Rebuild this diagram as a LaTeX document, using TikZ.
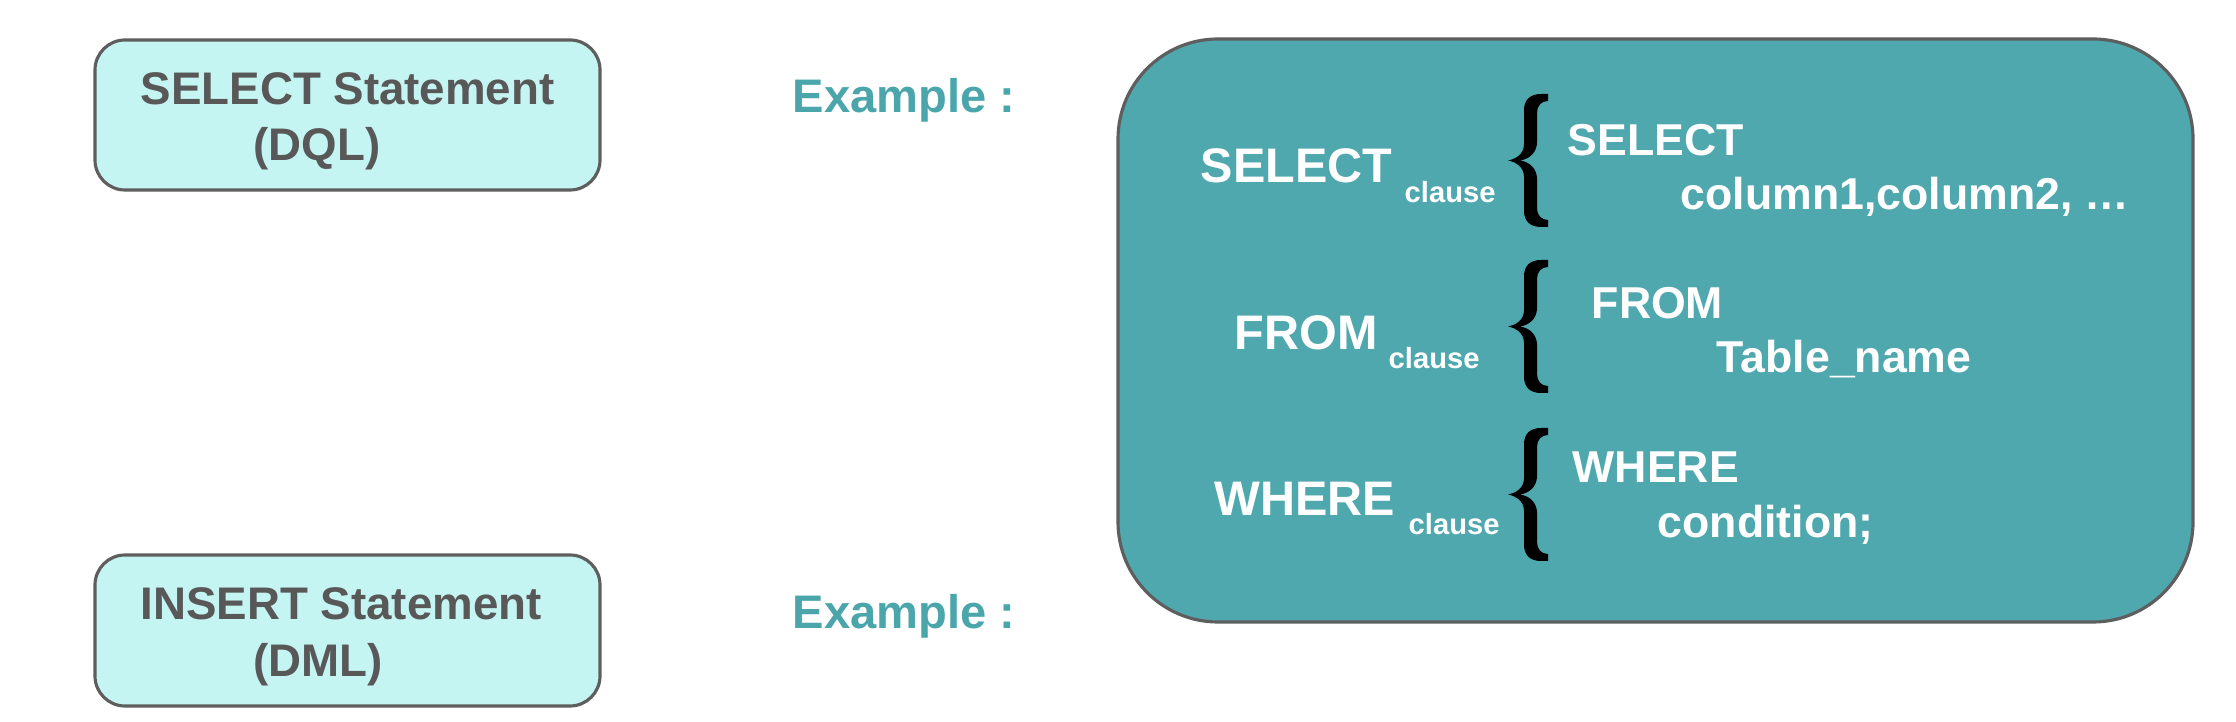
\documentclass[tikz,border=0pt]{standalone}
\usepackage{fontspec}
\setmainfont{Liberation Sans}

\definecolor{boxgray}{HTML}{5E5E5E}
\definecolor{txtgray}{HTML}{585858}
\definecolor{paleaqua}{HTML}{C5F5F2}
\definecolor{sqlteal}{HTML}{4FA8AE}
\definecolor{exteal}{HTML}{4AA6AB}

\tikzset{
  stmtbox/.style={draw=boxgray, fill=paleaqua, line width=0.9pt, rounded corners=3mm},
  stmttext/.style={anchor=base west, inner sep=0pt, text=txtgray, font=\fontsize{13}{15}\selectfont\bfseries},
  extext/.style={anchor=base west, inner sep=0pt, text=exteal, font=\fontsize{13.4}{15}\selectfont\bfseries},
  kw/.style={anchor=base west, inner sep=0pt, text=white, font=\fontsize{13.8}{16}\selectfont\bfseries},
  sub/.style={anchor=base west, inner sep=0pt, text=white, font=\fontsize{8.3}{10}\selectfont\bfseries},
  code/.style={anchor=base west, inner sep=0pt, text=white, font=\fontsize{12.7}{15}\selectfont\bfseries}
}

\begin{document}
\begin{tikzpicture}[x=0.1mm, y=-0.1mm]
\useasboundingbox (0,0) rectangle (2236,722);

% statement boxes
\draw[stmtbox] (95,40) rectangle (600,190);
\draw[stmtbox] (95,555) rectangle (600,706);
\node[stmttext] (seltitle) at (140,105) {SELECT Statement};
\node[stmttext] (seltype) at (253,161) {(DQL)};
\node[stmttext] (institle) at (140,620) {INSERT Statement};
\node[stmttext] (instype) at (253,677) {(DML)};

% example labels
\node[extext] (selex) at (792,113) {Example :};
\node[extext] (insex) at (792,629) {Example :};

% query box
\draw[draw=boxgray, fill=sqlteal, line width=0.9pt, rounded corners=1cm] (1118,39) rectangle (2193,622);

\begin{scope}
\node[kw] (selkw) at (1200,183) {SELECT};
\node[sub] (selcl) at (1404,203) {clause};
\node[code] (selcode) at (1567,156) {SELECT};
\node[code] (selcols) at (1680,210) {column1,column2, …};

\node[kw] (fromkw) at (1234,350) {FROM};
\node[sub] (fromcl) at (1388,369) {clause};
\node[code] (fromcode) at (1591,319) {FROM};
\node[code] (fromtab) at (1716,373) {Table\_name};

\node[kw] (wherekw) at (1214,516) {WHERE};
\node[sub] (wherecl) at (1408,535) {clause};
\node[code] (wherecode) at (1572,483) {WHERE};
\node[code] (wherecond) at (1657,538) {condition;};
\end{scope}

% braces
\foreach \top in {94, 260, 428}
  \fill[black, shift={(1508,\top)}]
    (40,0) -- (33,0) .. controls (22,0) and (16,6) .. (16,16)
    -- (16,50) .. controls (16,60) and (8,65) .. (0,66.5)
    .. controls (8,68) and (16,73) .. (16,83)
    -- (16,117) .. controls (16,127) and (22,133) .. (33,133)
    -- (40,133) -- (40,126)
    .. controls (33,126) and (29,121) .. (29,114)
    -- (29,85) .. controls (29,75) and (22,68) .. (12,66.5)
    .. controls (22,65) and (29,58) .. (29,48)
    -- (29,19) .. controls (29,12) and (33,7) .. (40,7) -- cycle;

\end{tikzpicture}
\end{document}
